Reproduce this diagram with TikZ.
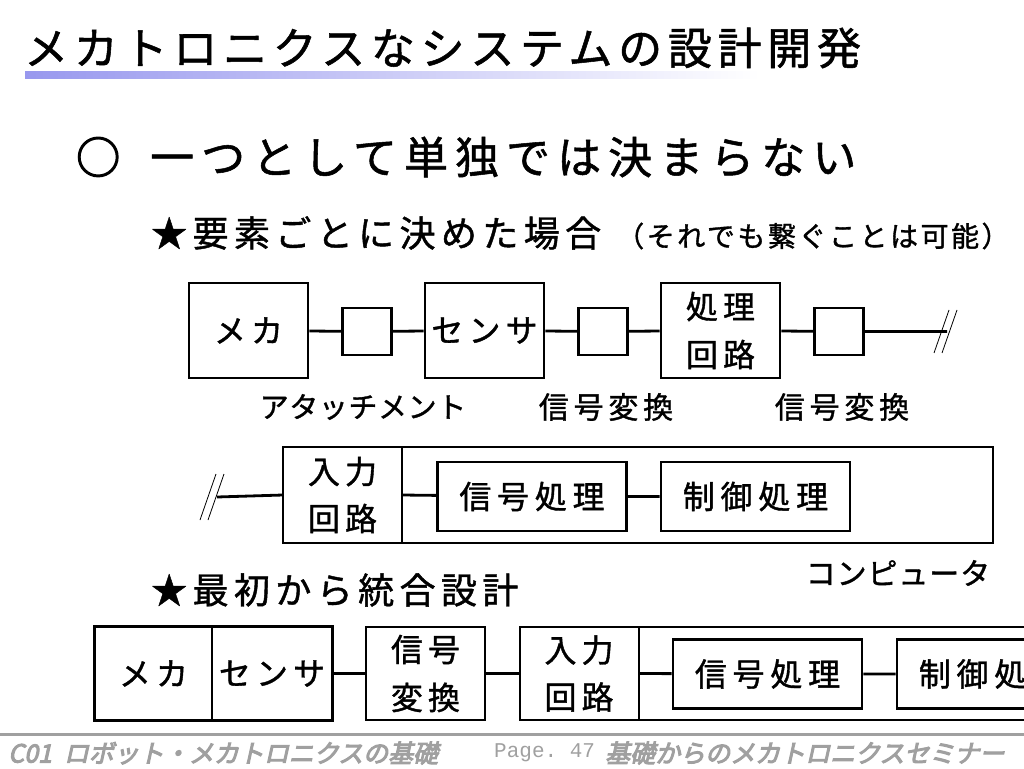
\documentclass[tikz,border=0pt]{standalone}
\usepackage{fontspec}
\usepackage{xcolor}
\setmainfont{Noto Sans CJK JP}
\newfontfamily\jpfont[FakeBold=1.2]{Noto Sans CJK JP}
\newfontfamily\footfont[FakeSlant=0.22,FakeBold=4]{Noto Sans CJK JP}
\newfontfamily\pagefont{Liberation Mono}
\newcommand{\jpsize}[3]{\fontsize{#1}{#2}\selectfont\addfontfeature{LetterSpace=#3}}
\definecolor{barblue}{RGB}{152,152,238}
\definecolor{footgray}{RGB}{160,160,160}

\begin{document}
\begin{tikzpicture}[x=1pt, y=-1pt,
    blk/.style={draw, line width=2.8pt, minimum width=119pt, minimum height=95pt,
      inner sep=0pt, align=center, font={\jpfont\jpsize{32}{48}{16}}},
    att/.style={draw, line width=2.8pt, minimum width=49pt, minimum height=47pt, inner sep=0pt},
    cell/.style={minimum width=119pt, minimum height=95pt, inner sep=0pt, align=center,
      font={\jpfont\jpsize{32}{47}{16}}},
    job/.style={draw, line width=2.8pt, minimum width=189pt, minimum height=69pt,
      inner sep=0pt, font={\jpfont\jpsize{32}{40}{18}}},
    lnk/.style={line width=2.8pt},
    divider/.style={line width=1.8pt},
    brk/.style={line width=0.8pt},
    lbl/.style={inner sep=0pt, font={\jpfont\jpsize{30}{36}{16}}},
    head/.style={anchor=west, inner sep=0pt}]
  \useasboundingbox (0,0) rectangle (1024,768);
  \clip (0,0) rectangle (1024,768);

  %title and bar
  \node[head, font={\jpfont\jpsize{44}{48}{13}}] (title) at (24,48)
    {メカトロニクスなシステムの設計開発};
  \shade[left color=barblue, right color=white] (25,71) rectangle (760,78);

  %headings
  \node[head, font={\jpfont\jpsize{44}{48}{16}}] (point) at (76,157)
    {{\addfontfeature{FakeBold=3}○}\hspace{30pt}一つとして単独では決まらない};
  \node[head, font={\jpfont\jpsize{36}{40}{15}}] (case1) at (151,233) {★要素ごとに決めた場合};
  \node[head, font={\jpfont\jpsize{28}{30}{9}}] (note) at (616,236) {（それでも繋ぐことは可能）};
  \node[head, font={\jpfont\jpsize{36}{40}{15}}] (case2) at (151,590) {★最初から統合設計};

  %row 1: parts decided one by one
  \node[blk] (meka1) at (248.5,330.5) {メカ};
  \node[att] (att1) at (367,331.5) {};
  \node[blk] (sens1) at (484.5,330.5) {センサ};
  \node[att] (att2) at (603,331.5) {};
  \node[blk] (proc1) at (720.5,330.5) {処理\\回路};
  \node[att] (att3) at (839,331.5) {};
  \coordinate (cut1) at (947,331.5);
  \draw[lnk] (meka1) -- (att1) -- (sens1) -- (att2) -- (proc1) -- (att3) -- (cut1);
  \draw[brk] (934,353) -- (949,310)
             (942,353) -- (957,310);
  \node[lbl, font={\jpfont\jpsize{29}{36}{2}}] (lbl1) at (363,407) {アタッチメント};
  \node[lbl] (lbl2) at (606,407) {信号変換};
  \node[lbl] (lbl3) at (842,407) {信号変換};

  %row 2: computer
  \draw[lnk] (283,447) rectangle (993,543);
  \node[cell] (inp2) at (342.5,495) {入力\\回路};
  \draw[divider] (inp2.north east) -- (inp2.south east);
  \node[job] (sig2) at (532,496.5) {信号処理};
  \node[job] (ctl2) at (755.5,496.5) {制御処理};
  \coordinate (cut2) at (217,497);
  \draw[lnk] (cut2) -- (inp2.west);
  \draw[lnk] (inp2.east) -- (sig2) -- (ctl2);
  \draw[brk] (200,520) -- (216,474)
             (208,520) -- (224,474);
  \node[lbl, font={\jpfont\jpsize{30}{36}{3}}] (comp) at (898,573) {コンピュータ};

  %row 3: designed together from the start
  \node[cell, minimum width=117pt, minimum height=93pt] (meka3) at (153.5,673.5) {メカ};
  \node[cell, minimum width=120pt, minimum height=93pt] (sens3) at (272,673.5) {センサ};
  \draw[lnk] (meka3.north west) rectangle (sens3.south east);
  \draw[divider] (meka3.north east) -- (meka3.south east);
  \node[blk, minimum height=93pt] (conv3) at (425.5,673.5) {信号\\変換};
  \draw[lnk] (520,627) rectangle (1060,720);
  \node[cell, minimum height=93pt] (inp3) at (579,673.5) {入力\\回路};
  \draw[divider] (inp3.north east) -- (inp3.south east);
  \node[job] (sig3) at (767.5,674) {信号処理};
  \node[job] (ctl3) at (991.5,674) {制御処理};
  \draw[lnk] (sens3.east) -- (conv3) -- (inp3.west);
  \draw[lnk] (inp3.east) -- (sig3) -- (ctl3);

  %footer
  \draw[footgray, line width=3pt] (0,734) -- (1024,734);
  \node[head, text=footgray, font={\footfont\fontsize{25}{28}\selectfont}] (foot1) at (8,753)
    {C01\hspace{12pt}ロボット・メカトロニクスの基礎};
  \node[head, text=footgray, font={\pagefont\fontsize{21}{24}\selectfont}] (page) at (494,753) {Page.~47};
  \node[head, text=footgray, font={\footfont\fontsize{25}{28}\selectfont}] (foot2) at (605,753)
    {基礎からのメカトロニクスセミナー};
\end{tikzpicture}
\end{document}
